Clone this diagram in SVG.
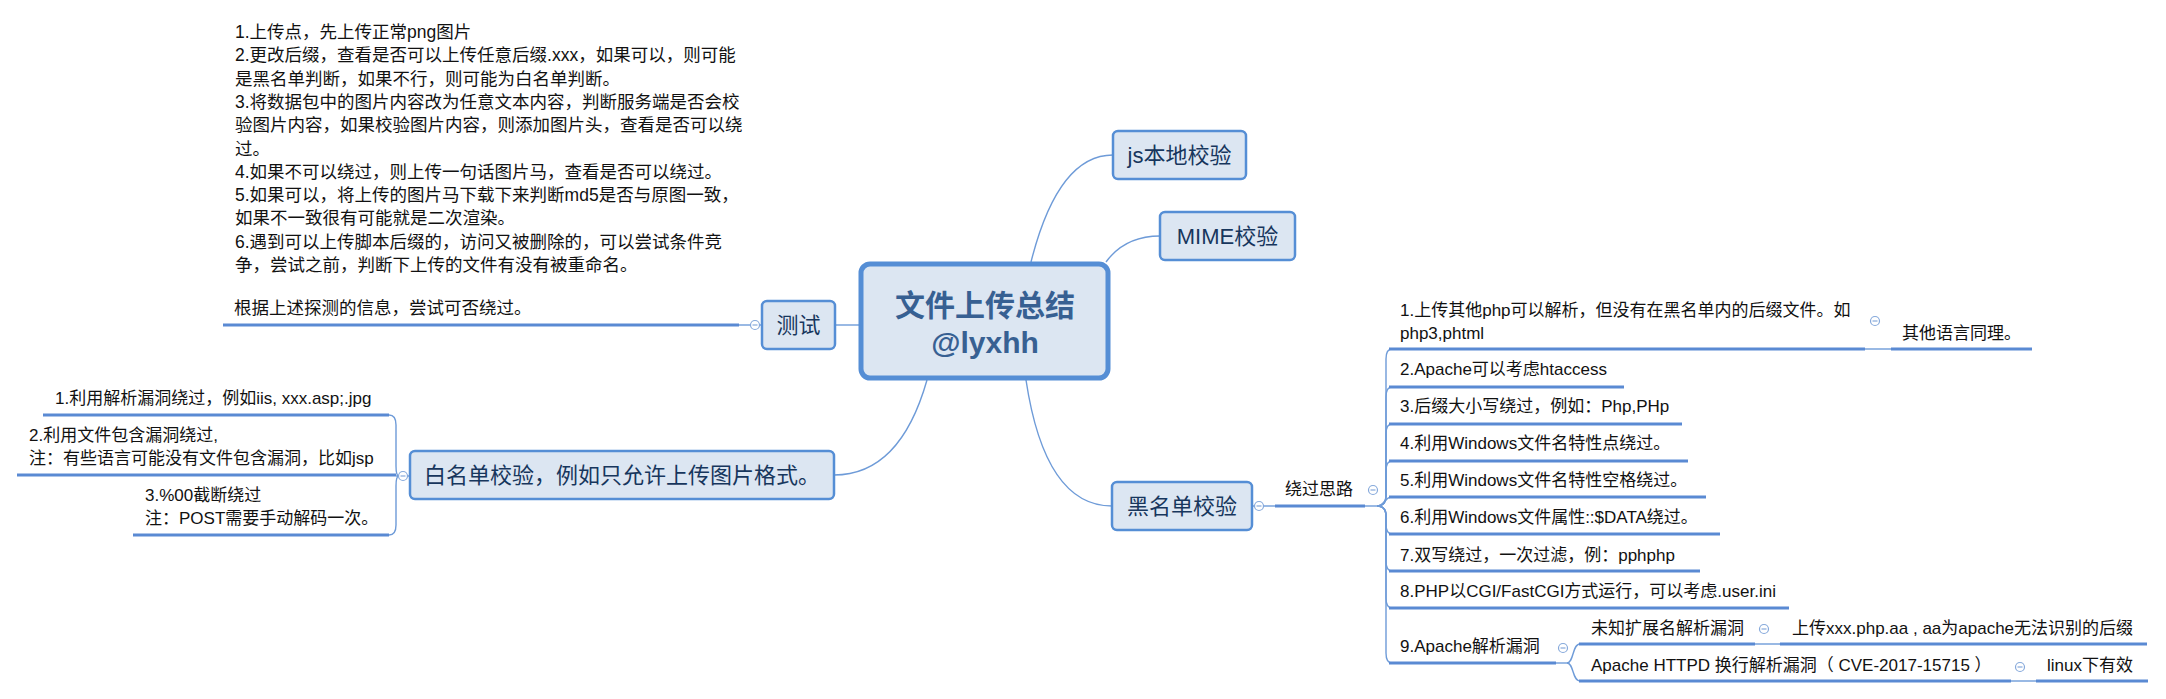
<svg xmlns="http://www.w3.org/2000/svg" width="2166" height="699" viewBox="0 0 2166 699">
<style>
.t{font-family:"Liberation Sans","Noto Sans CJK SC",sans-serif;font-size:17px;fill:#111}
.tb{font-size:17.5px}
.nt{font-family:"Liberation Sans","Noto Sans CJK SC",sans-serif;font-size:22px;fill:#17365d;text-anchor:middle}
.tt{font-family:"Liberation Sans","Noto Sans CJK SC",sans-serif;font-size:30px;font-weight:bold;fill:#376092;text-anchor:middle}
.node{fill:#dce6f2;stroke:#558ed5;stroke-width:2.5}
.ul{stroke:#5a8ad3;stroke-width:3;fill:none}
.cn{stroke:#6e9bd8;stroke-width:1.4;fill:none}
.bc{fill:#fff;stroke:#86a9db;stroke-width:1.2}
.bm{stroke:#86a9db;stroke-width:1.2}
</style>
<defs>
<g id="btn"><circle class="bc" r="4.5"/><path class="bm" d="M-2.5 0h5"/></g>
</defs>
<rect width="2166" height="699" fill="#fff"/>

<g id="connectors">
<path class="cn" d="M835 325H859"/>
<path class="cn" d="M1031 262Q1058 155 1113 155"/>
<path class="cn" d="M1106 262Q1125 236 1160 236"/>
<path class="cn" d="M927 380Q900 475 834 475"/>
<path class="cn" d="M1026 380Q1045 506 1112 506"/>
<path class="cn" d="M739 325H762"/>
<path class="cn" d="M396 476H410"/>
<path class="cn" d="M399 476Q396 476 396 466L396 425Q396 415 389 415"/>
<path class="cn" d="M399 476Q396 476 396 486L396 525Q396 535 389 535"/>
<path class="cn" d="M1252 506H1275"/>
<path class="cn" d="M1365 506H1377"/>
<path class="cn" d="M1377 506Q1386 506 1386 496L1386 359Q1386 349 1392 349"/>
<path class="cn" d="M1377 506Q1386 506 1386 496L1386 397Q1386 387 1392 387"/>
<path class="cn" d="M1377 506Q1386 506 1386 496L1386 434Q1386 424 1392 424"/>
<path class="cn" d="M1377 506Q1386 506 1386 496L1386 471Q1386 461 1392 461"/>
<path class="cn" d="M1377 506C1385 506 1384 497 1392 497"/>
<path class="cn" d="M1377 506Q1386 506 1386 516L1386 524Q1386 534 1392 534"/>
<path class="cn" d="M1377 506Q1386 506 1386 516L1386 561Q1386 571 1392 571"/>
<path class="cn" d="M1377 506Q1386 506 1386 516L1386 598Q1386 608 1392 608"/>
<path class="cn" d="M1377 506Q1386 506 1386 516L1386 653Q1386 663 1392 663"/>
<path class="cn" d="M1865 349H1891"/>
<path class="cn" d="M1556 663H1567"/>
<path class="cn" d="M1567 663C1574 663 1572 644 1580 644"/>
<path class="cn" d="M1567 663C1574 663 1572 681 1580 681"/>
<path class="cn" d="M1755 644H1780"/>
<path class="cn" d="M2011 681H2036"/>
</g>

<g id="center">
<rect x="861" y="264" width="247" height="114" rx="9" fill="#dce6f2" stroke="#558ed5" stroke-width="5"/>
<text class="tt" x="985" y="316">文件上传总结</text>
<text class="tt" x="985" y="353">@lyxhh</text>
</g>

<g id="js">
<rect class="node" x="1113" y="131" width="133" height="48" rx="5"/>
<text class="nt" x="1179.5" y="163">js本地校验</text>
</g>

<g id="mime">
<rect class="node" x="1160" y="212" width="135" height="48" rx="5"/>
<text class="nt" x="1227.5" y="244">MIME校验</text>
</g>

<g id="test">
<rect class="node" x="762" y="301" width="73" height="48" rx="5"/>
<text class="nt" x="798.5" y="333">测试</text>
<use href="#btn" x="755" y="325"/>
</g>

<g id="test-notes">
<text class="t tb" x="235" y="38">1.上传点，先上传正常png图片</text>
<text class="t tb" x="235" y="61.3">2.更改后缀，查看是否可以上传任意后缀.xxx，如果可以，则可能</text>
<text class="t tb" x="235" y="84.6">是黑名单判断，如果不行，则可能为白名单判断。</text>
<text class="t tb" x="235" y="107.9">3.将数据包中的图片内容改为任意文本内容，判断服务端是否会校</text>
<text class="t tb" x="235" y="131.2">验图片内容，如果校验图片内容，则添加图片头，查看是否可以绕</text>
<text class="t tb" x="235" y="154.5">过。</text>
<text class="t tb" x="235" y="177.8">4.如果不可以绕过，则上传一句话图片马，查看是否可以绕过。</text>
<text class="t tb" x="235" y="201.1">5.如果可以，将上传的图片马下载下来判断md5是否与原图一致，</text>
<text class="t tb" x="235" y="224.4">如果不一致很有可能就是二次渲染。</text>
<text class="t tb" x="235" y="247.7">6.遇到可以上传脚本后缀的，访问又被删除的，可以尝试条件竞</text>
<text class="t tb" x="235" y="271">争，尝试之前，判断下上传的文件有没有被重命名。</text>
</g>

<g id="test-try">
<text class="t tb" x="234" y="314">根据上述探测的信息，尝试可否绕过。</text>
<path class="ul" d="M223 325H739"/>
</g>

<g id="whitelist">
<rect class="node" x="410" y="451" width="424" height="48" rx="5"/>
<text class="nt" x="622" y="483">白名单校验，例如只允许上传图片格式。</text>
<use href="#btn" x="403" y="476"/>
</g>

<g id="wl-1">
<text class="t" x="55" y="404">1.利用解析漏洞绕过，例如iis, xxx.asp;.jpg</text>
<path class="ul" d="M43 415H389"/>
</g>
<g id="wl-2">
<text class="t" x="29" y="441">2.利用文件包含漏洞绕过,</text>
<text class="t" x="29" y="464">注：有些语言可能没有文件包含漏洞，比如jsp</text>
<path class="ul" d="M17 475H396"/>
</g>
<g id="wl-3">
<text class="t" x="145" y="501">3.%00截断绕过</text>
<text class="t" x="145" y="524">注：POST需要手动解码一次。</text>
<path class="ul" d="M133 535H389"/>
</g>

<g id="blacklist">
<rect class="node" x="1112" y="482" width="140" height="48" rx="5"/>
<text class="nt" x="1182" y="514">黑名单校验</text>
<use href="#btn" x="1259" y="506"/>
</g>

<g id="bypass">
<text class="t" x="1285" y="495">绕过思路</text>
<path class="ul" d="M1275 506H1365"/>
<use href="#btn" x="1373" y="490"/>
</g>

<g id="bl-1">
<text class="t" x="1400" y="316">1.上传其他php可以解析，但没有在黑名单内的后缀文件。如</text>
<text class="t" x="1400" y="339">php3,phtml</text>
<path class="ul" d="M1389 349H1865"/>
<use href="#btn" x="1875" y="321"/>
</g>
<g id="bl-1a">
<text class="t" x="1902" y="339">其他语言同理。</text>
<path class="ul" d="M1891 349H2032"/>
</g>
<g id="bl-2">
<text class="t" x="1400" y="375">2.Apache可以考虑htaccess</text>
<path class="ul" d="M1389 387H1624"/>
</g>
<g id="bl-3">
<text class="t" x="1400" y="412">3.后缀大小写绕过，例如：Php,PHp</text>
<path class="ul" d="M1389 424H1682"/>
</g>
<g id="bl-4">
<text class="t" x="1400" y="449">4.利用Windows文件名特性点绕过。</text>
<path class="ul" d="M1389 461H1688"/>
</g>
<g id="bl-5">
<text class="t" x="1400" y="486">5.利用Windows文件名特性空格绕过。</text>
<path class="ul" d="M1389 497H1706"/>
</g>
<g id="bl-6">
<text class="t" x="1400" y="523">6.利用Windows文件属性::$DATA绕过。</text>
<path class="ul" d="M1389 534H1720"/>
</g>
<g id="bl-7">
<text class="t" x="1400" y="561">7.双写绕过，一次过滤，例：pphphp</text>
<path class="ul" d="M1389 571H1700"/>
</g>
<g id="bl-8">
<text class="t" x="1400" y="597">8.PHP以CGI/FastCGI方式运行，可以考虑.user.ini</text>
<path class="ul" d="M1389 608H1789"/>
</g>
<g id="bl-9">
<text class="t" x="1400" y="652">9.Apache解析漏洞</text>
<path class="ul" d="M1389 663H1556"/>
<use href="#btn" x="1563" y="648"/>
</g>
<g id="bl-9a">
<text class="t" x="1591" y="634">未知扩展名解析漏洞</text>
<path class="ul" d="M1579 644H1755"/>
<use href="#btn" x="1764" y="629"/>
</g>
<g id="bl-9a1">
<text class="t" x="1792" y="634">上传xxx.php.aa , aa为apache无法识别的后缀</text>
<path class="ul" d="M1780 644H2147"/>
</g>
<g id="bl-9b">
<text class="t" x="1591" y="671">Apache HTTPD 换行解析漏洞（ CVE-2017-15715 ）</text>
<path class="ul" d="M1579 681H2011"/>
<use href="#btn" x="2020" y="667"/>
</g>
<g id="bl-9b1">
<text class="t" x="2047" y="671">linux下有效</text>
<path class="ul" d="M2036 681H2148"/>
</g>
</svg>
